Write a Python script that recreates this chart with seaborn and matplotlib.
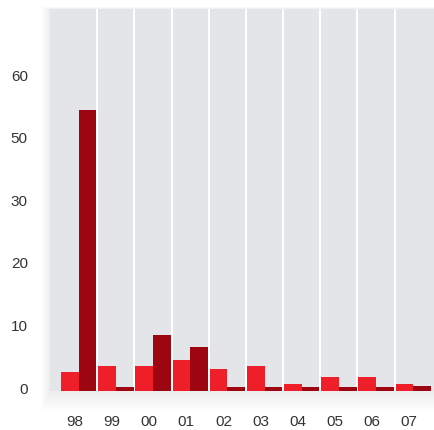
import numpy as np
import pandas as pd
import matplotlib
matplotlib.use('Agg')
import matplotlib.pyplot as plt
import matplotlib.transforms as mtrans
from matplotlib.patches import Rectangle
import seaborn as sns

# data
years = ['98', '99', '00', '01', '02', '03', '04', '05', '06', '07']
series_a = [3.0, 4.05, 4.05, 4.95, 3.5, 4.05, 1.15, 2.25, 2.25, 1.15]
series_b = [54.9, 0.65, 8.95, 7.1, 0.65, 0.65, 0.65, 0.65, 0.65, 0.85]
y_ticks = [0, 10, 20, 30, 50, 60]
y_tick_labels = ['0', '10', '20', '30', '50', '60']

df = pd.DataFrame({
    'year': years * 2,
    'value': series_a + series_b,
    'series': ['a'] * len(years) + ['b'] * len(years),
})

sns.set_style('white', {'axes.facecolor': '#e4e5e8'})
plt.rcParams['font.family'] = ['Liberation Sans', 'DejaVu Sans']

W, H = 434, 430
fig = plt.figure(figsize=(W / 100, H / 100), dpi=100)
L, R, B, T = 50, 434, 391, 9
ax = fig.add_axes([L / W, 1 - B / H, (R - L) / W, (B - T) / H])

# soft shadow, mostly under the plot box
for i in range(1, 19):
    x0 = L - i * 0.5
    x1 = R + i * 0.5
    y0 = B + i * 1.1
    y1 = T - i * 0.12
    fig.patches.append(Rectangle((x0 / W, 1 - y0 / H), (x1 - x0) / W, (y0 - y1) / H,
                                 transform=fig.transFigure, facecolor='black',
                                 edgecolor='none', alpha=0.004, zorder=-10))

sns.barplot(data=df, x='year', y='value', hue='series',
            palette=['#ee1f28', '#9d0610'], width=0.95, gap=0,
            saturation=1, legend=False, linewidth=0, ax=ax, zorder=2)

# the value axis is not linear: labels 30 -> 50 take one step
src = [0, 10, 20, 30, 50, 60, 200]
dst = [0, 10, 20, 30, 40, 50, 190]
ax.set_yscale('function', functions=(lambda v: np.interp(v, src, dst),
                                     lambda v: np.interp(v, dst, src)))
ax.set_ylim(0, 71.1)
ax.set_xlim(-0.773, 9.56)
ax.set_yticks(y_ticks)
ax.set_yticklabels(y_tick_labels)

ax.set_xticks(np.arange(0.5, 9, 1), minor=True)
ax.grid(which='minor', axis='x', color='white', lw=1.4)
ax.grid(which='major', visible=False)
ax.set_axisbelow(True)

for s in ax.spines.values():
    s.set_visible(False)
ax.tick_params(axis='both', which='both', length=0, labelsize=11, colors='#333333')
ax.tick_params(axis='x', pad=17)
ax.tick_params(axis='y', pad=16)
ax.set_xlabel('')
ax.set_ylabel('')

dx = mtrans.ScaledTranslation(-4 / 100, 0, fig.dpi_scale_trans)
for lab in ax.get_xticklabels():
    lab.set_transform(lab.get_transform() + dx)
dy = mtrans.ScaledTranslation(0, 3 / 100, fig.dpi_scale_trans)
for lab in ax.get_yticklabels():
    lab.set_transform(lab.get_transform() + dy)

fig.savefig('out.png', dpi=100, facecolor='white')
